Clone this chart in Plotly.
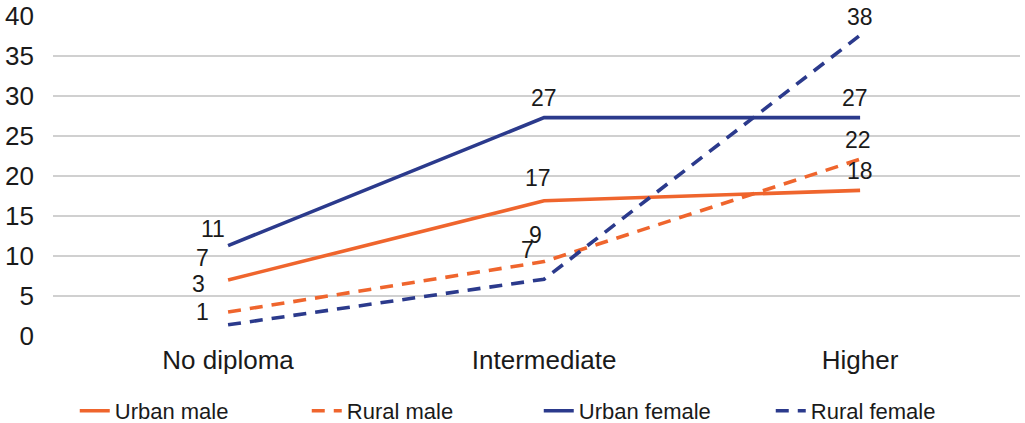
import plotly.graph_objects as go

categories = ["No diploma", "Intermediate", "Higher"]
urban_male = [7.0, 16.9, 18.2]
rural_male = [3.0, 9.3, 22.1]
urban_female = [11.3, 27.3, 27.3]
rural_female = [1.4, 7.1, 37.6]

ORANGE = "#EF652D"
NAVY = "#2B3A8C"

series = [
    ("Urban male", urban_male, ORANGE, "solid"),
    ("Rural male", rural_male, ORANGE, "13px,9px"),
    ("Urban female", urban_female, NAVY, "solid"),
    ("Rural female", rural_female, NAVY, "13px,9px"),
]

# label offsets (xshift, yshift) per series per point
offsets = {
    "Urban male": [(-26, 7), (-6, 8), (0, 4)],
    "Rural male": [(-30, 13), (-9, 12), (-2, 4)],
    "Urban female": [(-15, 2), (0, 5), (-5, 5)],
    "Rural female": [(-26, -2), (-17, 14), (0, 3)],
}

fig = go.Figure()
for name, vals, color, dash in series:
    fig.add_trace(go.Scatter(
        x=categories, y=vals, mode="lines", name=name,
        line=dict(color=color, width=3.6, dash=dash),
    ))
    for i, (c, v) in enumerate(zip(categories, vals)):
        dx, dy = offsets[name][i]
        fig.add_annotation(
            x=c, y=v, text=f"{round(v):d}", showarrow=False,
            xanchor="center", yanchor="bottom", xshift=dx, yshift=dy,
            font=dict(family="Liberation Sans", size=23, color="#1a1a1a"),
        )

fig.update_layout(
    width=1025, height=423,
    margin=dict(l=53, r=5, t=16, b=87, autoexpand=False),
    plot_bgcolor="white", paper_bgcolor="white",
    font=dict(family="Liberation Sans", color="#1a1a1a"),
    showlegend=True,
    legend=dict(
        orientation="h", x=0.0225, y=-0.234, xanchor="left", yanchor="middle",
        font=dict(family="Liberation Sans", size=22, color="#1a1a1a"),
        itemwidth=30, tracegroupgap=0, entrywidthmode="pixels", entrywidth=187,
    ),
    xaxis=dict(
        type="category", range=[-0.554, 2.506], showgrid=False, zeroline=False,
        showline=False, ticks="", automargin=False, ticklabelstandoff=6,
        tickfont=dict(size=26, color="#1a1a1a"),
    ),
    yaxis=dict(
        range=[0, 40], dtick=5, showgrid=True, gridcolor="#D0D0D0", gridwidth=2,
        zeroline=False, showline=False, ticks="", ticklabelstandoff=18, automargin=False,
        tickfont=dict(size=26, color="#1a1a1a"),
    ),
)

fig.write_html(
    "out.html",
    config={"displayModeBar": False},
    post_script="document.body.style.margin='0';document.body.style.overflow='hidden';",
)
